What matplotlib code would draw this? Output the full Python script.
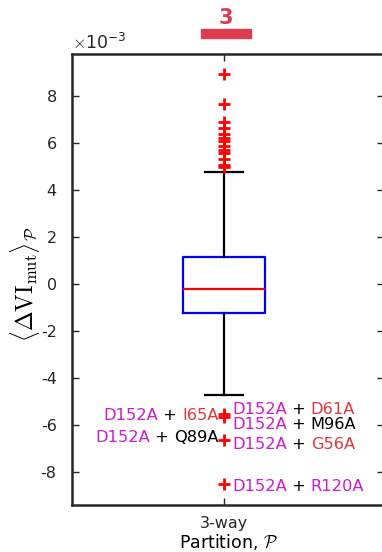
import matplotlib
matplotlib.use("Agg")
import matplotlib.pyplot as plt
from matplotlib.patches import Rectangle

plt.rcParams['font.family'] = ['DejaVu Sans']
plt.rcParams['mathtext.fontset'] = 'cm'
plt.rcParams['axes.unicode_minus'] = False

## data (units of 1e-3)
partition = ["3-way"]
q1, med, q3 = -1.23, -0.21, 1.15
whis_lo, whis_hi = -4.71, 4.77
fliers_hi = [8.94, 7.66, 6.89, 6.64, 6.38, 6.21, 6.09, 5.87, 5.70, 5.57, 5.32, 5.06, 4.98]
fliers_lo = [-5.53, -5.66, -6.64, -8.51]

# labelled outliers: (y, side, [(text, colour), ...])
MAG = "#CC1CCC"
RED = "#E0393C"
BLK = "black"
lab_y = [-5.58, -6.52, -5.32, -5.97, -6.82, -8.6]
lab_side = ["left", "left", "right", "right", "right", "right"]
lab_parts = [
    [("D152A", MAG), (" + ", BLK), ("I65A", RED)],
    [("D152A", MAG), (" + ", BLK), ("Q89A", BLK)],
    [("D152A", MAG), (" + ", BLK), ("D61A", RED)],
    [("D152A", MAG), (" + ", BLK), ("M96A", BLK)],
    [("D152A", MAG), (" + ", BLK), ("G56A", RED)],
    [("D152A", MAG), (" + ", BLK), ("R120A", MAG)],
]

fig = plt.figure(figsize=(3.82, 5.52), dpi=100)
ax = fig.add_axes([72/382, 47/552, 312/382, 451/552])

stats = [dict(med=med, q1=q1, q3=q3, whislo=whis_lo, whishi=whis_hi,
              fliers=fliers_hi + fliers_lo, label=partition[0])]
ax.bxp(stats, positions=[1], widths=0.5,
       boxprops=dict(color="blue", lw=1.6),
       medianprops=dict(color="red", lw=1.6),
       whiskerprops=dict(color="black", lw=1.6, ls="-"),
       capprops=dict(color="black", lw=1.6),
       capwidths=0.23,
       flierprops=dict(marker="+", markeredgecolor="red", markersize=8, mew=2, ls="none"))

ax.set_xlim(1 - 152/164, 1 + 160/164)
ax.set_ylim(-9.4, 9.8)
ax.set_yticks([-8, -6, -4, -2, 0, 2, 4, 6, 8])
ax.set_xticks([1])
ax.set_xticklabels(partition)
ax.tick_params(axis="both", direction="in", length=5, width=1, colors="#262626",
               labelsize=11.5, top=True, right=True)
ax.tick_params(axis="y", pad=11)
ax.tick_params(axis="x", pad=8)
for s in ax.spines.values():
    s.set_linewidth(1.8)
    s.set_color("#262626")

ax.set_xlabel(r"Partition, $\mathcal{P}$", fontsize=12.5, labelpad=1)
ax.set_ylabel(r"$\langle \Delta\mathrm{VI}_{\mathrm{mut}}\rangle_{\mathcal{P}}$", fontsize=17)
ax.yaxis.set_label_coords(-0.097, 0.49)
ax.text(0.0, 1.003, r"$\times\mathregular{10^{-3}}$", transform=ax.transAxes,
        fontsize=12.5, va="bottom", ha="left", color="#262626")

# group marker above the box
ax.add_patch(Rectangle((1.01 - 0.152, 1.035), 0.305, 0.02, transform=ax.get_xaxis_transform(),
                       color="#DC3C50", clip_on=False))
ax.text(1.01, 1.058, "3", transform=ax.get_xaxis_transform(), ha="center", va="bottom",
        fontsize=15, fontweight="bold", color="#DC3C50")

# coloured outlier labels
for y, side, parts in zip(lab_y, lab_side, lab_parts):
    if side == "right":
        prev = ax.text(1.05, y, parts[0][0], color=parts[0][1], fontsize=11.7,
                       ha="left", va="center")
        for txt, col in parts[1:]:
            prev = ax.annotate(txt, xy=(1, 0), xycoords=prev, color=col, fontsize=11.7,
                               ha="left", va="bottom")
    else:
        prev = ax.text(0.965, y, parts[-1][0], color=parts[-1][1], fontsize=11.7,
                       ha="right", va="center")
        for txt, col in reversed(parts[:-1]):
            prev = ax.annotate(txt, xy=(0, 0), xycoords=prev, color=col, fontsize=11.7,
                               ha="right", va="bottom")

fig.savefig("out.png", dpi=100)
